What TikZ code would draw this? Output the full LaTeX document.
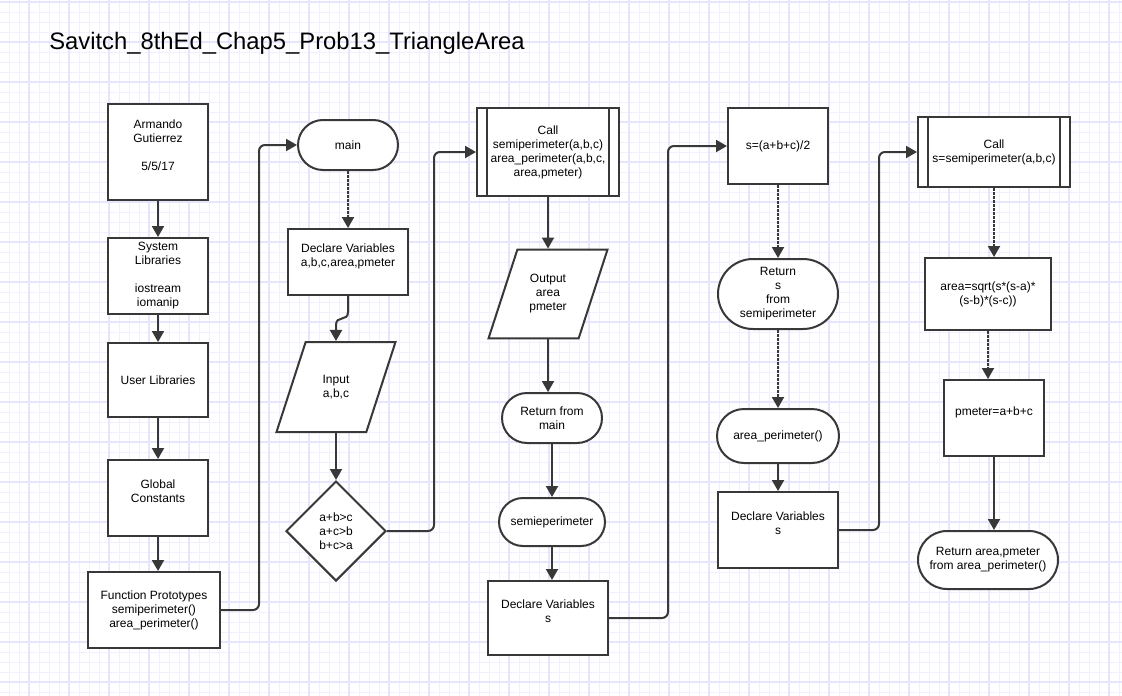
\documentclass[tikz,border=0pt]{standalone}
\usepackage{fontspec}
\setmainfont{Liberation Sans}
\usetikzlibrary{arrows.meta,shapes.geometric,shapes.misc}
\definecolor{grid-minor}{rgb}{0.94, 0.94, 1.0}
\definecolor{grid-major}{rgb}{0.9, 0.9, 0.99}
\definecolor{line-gray}{rgb}{0.22, 0.22, 0.22}

\begin{document}
\begin{tikzpicture}[
    x=1pt, y=-1pt,
    line width=2pt,
    >={Triangle[length=11pt,width=12pt]},
    every node/.style={font=\fontsize{12pt}{14pt}\selectfont, align=center},
    procbox/.style={draw=line-gray, fill=white, rectangle, inner sep=0pt},
    termbox/.style={draw=line-gray, fill=white, rounded rectangle, inner sep=0pt},
    iobox/.style={draw=line-gray, fill=white, trapezium, trapezium left angle=72,
        trapezium right angle=108, trapezium stretches body, inner xsep=0pt},
    decbox/.style={draw=line-gray, fill=white, diamond, aspect=1, inner sep=0pt},
    subbox/.style={procbox, path picture={
        \draw [line-gray] ([xshift=10pt]path picture bounding box.north west) -- ([xshift=10pt]path picture bounding box.south west);
        \draw [line-gray] ([xshift=-10pt]path picture bounding box.north east) -- ([xshift=-10pt]path picture bounding box.south east);}},
    flow/.style={draw=line-gray, ->},
    dflow/.style={flow, dash pattern=on 3pt off 1pt},
    elbow/.style={flow, rounded corners=6pt}]

    \useasboundingbox (0,0) rectangle (1122,696);
    \fill [white] (0,0) rectangle (1122,696);

    % grid
    \foreach \x in {9,19,...,1119} \draw [grid-minor, line width=1pt] (\x,0) -- (\x,696);
    \foreach \y in {2,12,...,692} \draw [grid-minor, line width=1pt] (0,\y) -- (1122,\y);
    \foreach \x in {29,69,...,1109} \draw [grid-major, line width=1.2pt] (\x,0) -- (\x,696);
    \foreach \y in {2,42,...,682} \draw [grid-major, line width=1.2pt] (0,\y) -- (1122,\y);

    \node [anchor=base west, font=\fontsize{23.8pt}{28pt}\selectfont] (title) at (45,49)
        {Savitch\_8thEd\_Chap5\_Prob13\_TriangleArea};

    % headers
    \node [procbox, minimum width=100pt, minimum height=96pt] (author) at (158,152) {Armando\\Gutierrez\\ \\5/5/17\\ };
    \node [procbox, minimum width=100pt, minimum height=76pt] (syslib) at (158,276) {System\\Libraries\\ \\iostream\\iomanip};
    \node [procbox, minimum width=100pt, minimum height=74pt] (userlib) at (158,380) {User Libraries};
    \node [procbox, minimum width=100pt, minimum height=76pt] (globals) at (158,498) {Global\\Constants\\ };
    \node [procbox, minimum width=132pt, minimum height=76pt] (protos) at (154,610) {Function Prototypes\\semiperimeter()\\area\_perimeter()};

    % main
    \node [termbox, minimum width=100pt, minimum height=50pt] (main) at (348,145) {main};
    \node [procbox, minimum width=120pt, minimum height=66pt] (declare) at (348,262) {Declare Variables\\a,b,c,area,pmeter\\ };
    \node [iobox, inner ysep=33pt, minimum width=119pt, minimum height=90pt] (input) at (336,387) {Input\\a,b,c};
    \node [decbox, minimum size=100pt] (check) at (336,531) {a+b>c\\a+c>b\\b+c>a};
    \node [subbox, minimum width=142pt, minimum height=88pt] (callmain) at (548,152) {Call\\semiperimeter(a,b,c)\\area\_perimeter(a,b,c,\\area,pmeter)};
    \node [iobox, inner ysep=25pt, minimum width=119pt, minimum height=88pt] (output) at (548,294) {Output\\area\\pmeter};
    \node [termbox, minimum width=100pt, minimum height=50pt] (retmain) at (552,418) {Return from\\main};

    % semiperimeter
    \node [termbox, minimum width=106pt, minimum height=48pt] (semi) at (552,522) {semieperimeter};
    \node [procbox, minimum width=120pt, minimum height=74pt] (declares) at (548,618) {Declare Variables\\s\\ };
    \node [procbox, minimum width=100pt, minimum height=76pt] (sformula) at (778,146) {s=(a+b+c)/2};
    \node [termbox, minimum width=120pt, minimum height=70pt] (rets) at (778,294) {Return\\s\\from\\semiperimeter};

    % area_perimeter
    \node [termbox, minimum width=122pt, minimum height=54pt] (areaper) at (778,436) {area\_perimeter()};
    \node [procbox, minimum width=120pt, minimum height=76pt] (declarea) at (778,530) {Declare Variables\\s\\ };
    \node [subbox, minimum width=152pt, minimum height=70pt] (callsemi) at (994,152) {Call\\s=semiperimeter(a,b,c)};
    \node [procbox, minimum width=126pt, minimum height=72pt] (areaf) at (988,294) {area=sqrt(s*(s-a)*\\(s-b)*(s-c))};
    \node [procbox, minimum width=100pt, minimum height=76pt] (pmeterf) at (994,418) {pmeter=a+b+c\\ };
    \node [termbox, minimum width=140pt, minimum height=58pt] (retarea) at (988,560) {Return area,pmeter\\from area\_perimeter()};

    \draw [flow] (author.south) -- (author.south |- syslib.north);
    \draw [flow] (syslib.south) -- (syslib.south |- userlib.north);
    \draw [flow] (userlib.south) -- (userlib.south |- globals.north);
    \draw [flow] (globals.south) -- (globals.south |- protos.north);
    \draw [elbow] (protos.east) -- ++(38,0) |- (main.west);

    \draw [dflow] (main.south) -- (main.south |- declare.north);
    \draw [flow] (declare.south) -- ++(0,16) .. controls +(0,10) and +(0,-10) .. ([yshift=16pt]input.north) -- (input.north);
    \draw [flow] (input.south) -- (check.north);
    \draw [elbow] (check.east) -- ++(47,0) |- (callmain.west);

    \draw [flow] (callmain.south) -- (callmain.south |- output.north);
    \draw [flow] (output.south) -- (output.south |- retmain.north);
    \draw [flow] (retmain.south) -- (retmain.south |- semi.north);
    \draw [flow] (semi.south) -- (semi.south |- declares.north);
    \draw [elbow] (declares.east) -- ++(59,0) |- (sformula.west);

    \draw [dflow] (sformula.south) -- (sformula.south |- rets.north);
    \draw [dflow] (rets.south) -- (rets.south |- areaper.north);
    \draw [flow] (areaper.south) -- (areaper.south |- declarea.north);
    \draw [elbow] (declarea.east) -- ++(40,0) |- (callsemi.west);

    \draw [dflow] (callsemi.south) -- (callsemi.south |- areaf.north);
    \draw [dflow] (areaf.south) -- (areaf.south |- pmeterf.north);
    \draw [flow] (pmeterf.south) -- (pmeterf.south |- retarea.north);

\end{tikzpicture}
\end{document}
